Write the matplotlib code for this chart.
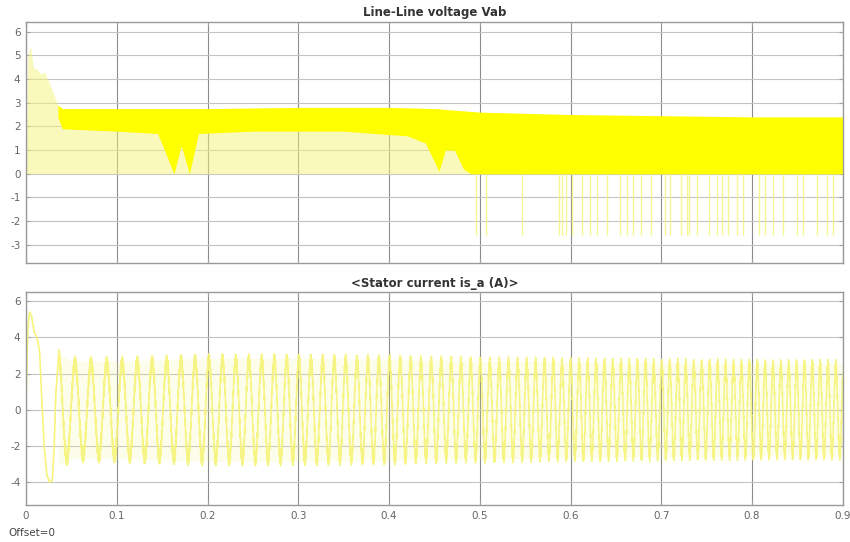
import numpy as np
import matplotlib
matplotlib.use('Agg')
from matplotlib import pyplot as plt

plt.rcParams['axes.unicode_minus'] = False

# ---- Line-Line voltage Vab ----
# upper edge of the trace
vab_t = [0.0, 0.002, 0.005, 0.008, 0.012, 0.016, 0.02, 0.025, 0.03, 0.035, 0.04,
         0.1, 0.2, 0.3, 0.4, 0.45, 0.5, 0.6, 0.7, 0.8, 0.9]
vab_hi = [0.5, 5.0, 5.4, 4.5, 4.4, 4.2, 4.3, 3.9, 3.4, 2.9, 2.75,
          2.75, 2.75, 2.8, 2.8, 2.75, 2.6, 2.5, 2.45, 2.4, 2.4]
# lower edge of the solid part of the band
vab_lo_t = [0.035, 0.04, 0.1, 0.145, 0.163, 0.171, 0.18, 0.19, 0.25, 0.35, 0.42,
            0.44, 0.455, 0.462, 0.472, 0.482, 0.49, 0.9]
vab_lo = [2.4, 1.9, 1.8, 1.7, 0.0, 1.2, 0.0, 1.7, 1.8, 1.8, 1.6,
          1.3, 0.1, 1.0, 1.0, 0.2, 0.0, 0.0]
# thin negative spikes
vab_neg_t = [0.496, 0.507, 0.546, 0.587, 0.591, 0.595, 0.602, 0.613, 0.621, 0.629,
             0.640, 0.654, 0.662, 0.669, 0.678, 0.689, 0.704, 0.709, 0.722, 0.728,
             0.731, 0.739, 0.753, 0.761, 0.767, 0.773, 0.783, 0.790, 0.808, 0.814,
             0.823, 0.834, 0.849, 0.856, 0.871, 0.882, 0.889]
vab_neg = -2.6

# ---- Stator current is_a ----
cur_early_t = [0.0, 0.002, 0.004, 0.006, 0.009, 0.012, 0.015, 0.017, 0.02,
               0.023, 0.026, 0.029, 0.031, 0.033, 0.036]
cur_early_v = [0.4, 4.5, 5.4, 5.2, 4.3, 4.0, 3.2, 1.0, -2.0,
               -3.6, -4.0, -3.9, -2.0, 1.0, 3.0]
cur_f_t = [0.036, 0.1, 0.2, 0.3, 0.4, 0.5, 0.6, 0.7, 0.8, 0.9]
cur_f = [55, 59, 66, 75, 85, 95, 106, 113, 115, 116]   # Hz
cur_amp_t = [0.036, 0.05, 0.1, 0.2, 0.3, 0.4, 0.5, 0.6, 0.7, 0.8, 0.9]
cur_amp = [3.0, 2.6, 2.6, 2.75, 2.75, 2.7, 2.6, 2.55, 2.5, 2.45, 2.45]
cur_ripple = 0.35

x_ticks = [0, 0.1, 0.2, 0.3, 0.4, 0.5, 0.6, 0.7, 0.8, 0.9]
x_labels = ['0', '0.1', '0.2', '0.3', '0.4', '0.5', '0.6', '0.7', '0.8', '0.9']

YEL = '#ffff00'
PALE = '#f6f47a'

fig = plt.figure(figsize=(8.5, 5.42), dpi=100)
ax1 = fig.add_axes([0.0306, 0.515, 0.961, 0.445])
ax2 = fig.add_axes([0.0306, 0.068, 0.961, 0.393])


def style(ax, yticks, ylim):
    ax.set_xlim(0, 0.9)
    ax.set_ylim(*ylim)
    ax.set_xticks(x_ticks)
    ax.set_yticks(yticks)
    ax.grid(True, axis='x', color='#8c8c8c', lw=0.8)
    ax.grid(True, axis='y', color='#c4c4c4', lw=0.8)
    ax.set_axisbelow(True)
    ax.tick_params(direction='in', length=3, right=True, top=True,
                   colors='#a0a0a0', labelcolor='#666666', labelsize=7.5, pad=4)
    for s in ax.spines.values():
        s.set_color('#9a9a9a')
        s.set_linewidth(1)
        s.set_zorder(5)


# top panel
t = np.linspace(0, 0.9, 4000)
hi = np.interp(t, vab_t, vab_hi)
lo = np.interp(t, vab_lo_t, vab_lo)
ax1.fill_between(t, 0, hi, color=PALE, alpha=0.5, lw=0, zorder=3)
m = t >= vab_lo_t[0]
ax1.fill_between(t[m], lo[m], hi[m], color=YEL, lw=0, zorder=3)
ax1.vlines(vab_neg_t, vab_neg, 0, color=PALE, lw=1.0, alpha=0.8, zorder=3)
style(ax1, [-3, -2, -1, 0, 1, 2, 3, 4, 5, 6], (-3.76, 6.42))
ax1.set_xticklabels([])
ax1.set_title('Line-Line voltage Vab', fontsize=8.5, fontweight='bold',
              color='#333333', pad=4)

# bottom panel
ts = np.linspace(cur_f_t[0], 0.9, 40000)
f = np.interp(ts, cur_f_t, cur_f)
phase = 2 * np.pi * np.concatenate([[0], np.cumsum(0.5 * (f[1:] + f[:-1]) * np.diff(ts))])
amp = np.interp(ts, cur_amp_t, cur_amp)
rip = cur_ripple * (2 / np.pi) * np.arcsin(np.sin(2 * np.pi * 1500 * ts))
cur = amp * np.cos(phase) + rip
ax2.fill_between(ts, -amp - 0.1, amp + 0.1, color=PALE, alpha=0.15, lw=0, zorder=2)
ax2.plot(cur_early_t, cur_early_v, color=PALE, lw=1.2, zorder=3)
ax2.plot(ts, cur, color=PALE, lw=1.1, alpha=0.9, zorder=3)
style(ax2, [-4, -2, 0, 2, 4, 6], (-5.27, 6.5))
ax2.set_xticklabels(x_labels)
ax2.set_title('<Stator current is_a (A)>', fontsize=8.5, fontweight='bold',
              color='#333333', pad=4)

fig.text(8 / 850, 1 - 533 / 542, 'Offset=0', fontsize=7.5, color='#444444', va='center')

fig.savefig('out.png', dpi=100)
